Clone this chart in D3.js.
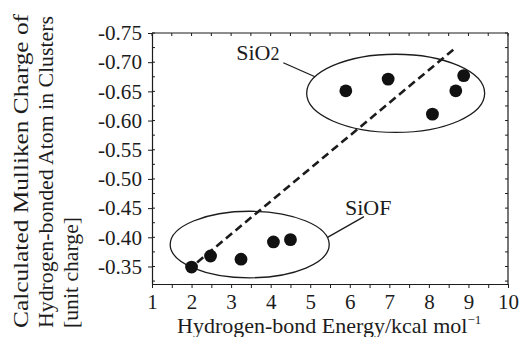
<!DOCTYPE html>
<html>
<head>
<meta charset="utf-8">
<script src="https://cdn.jsdelivr.net/npm/d3@7"></script>
<style>
body { margin: 0; background: #fff; }
text { font-family: "Liberation Serif", "Times New Roman", serif; fill: #1c1c1c; }
</style>
</head>
<body>
<div id="chart"></div>
<script>
// Values
var sio2Energy = [5.9, 6.97, 8.09, 8.68, 8.88];
var sio2Charge = [-0.651, -0.671, -0.611, -0.651, -0.677];
var siofEnergy = [2.0, 2.48, 3.25, 4.07, 4.5];
var siofCharge = [-0.349, -0.368, -0.3625, -0.392, -0.396];

// Dashed trend line ends
var trendEnergy = [2.14, 8.68];
var trendCharge = [-0.357, -0.725];

// Tick values
var xTicks = [1, 2, 3, 4, 5, 6, 7, 8, 9, 10];
var yTicks = [-0.75, -0.70, -0.65, -0.60, -0.55, -0.50, -0.45, -0.40, -0.35];

// Group ellipses (data units)
var groupNames = ["SiO2", "SiOF"];
var groupCx = [7.16, 3.47];
var groupCy = [-0.6466, -0.3876];
var groupRx = [2.25, 2.01];
var groupRy = [0.067, 0.057];

// Set up SVG params
var svgHgt = 337;
var svgWdt = 520;
var margins = {top: 33, right: 12, bottom: 53, left: 152};
var chtHgt = svgHgt - margins.top - margins.bottom;
var chtWdt = svgWdt - margins.left - margins.right;
var ink = "#1c1c1c";

var svg = d3.select("#chart").append("svg")
    .attr("height", svgHgt)
    .attr("width", svgWdt);

var chtGrp = svg.append("g")
    .attr("transform", `translate(${margins.left}, ${margins.top})`);

var xScale = d3.scaleLinear().domain([1, 10]).range([0, chtWdt]);
var yScale = d3.scaleLinear().domain([-0.32, -0.75]).range([chtHgt, 0]);

var halfSteps = d3.range(1, 10.01, 0.5);
var quarterSteps = d3.range(-0.75, -0.3199, 0.025);

// Frame: top and right borders with inward ticks
chtGrp.append("line").attr("x1", 0).attr("x2", chtWdt).attr("y1", 0).attr("y2", 0)
    .attr("stroke", ink).attr("stroke-width", 1.2);
chtGrp.append("line").attr("x1", chtWdt).attr("x2", chtWdt).attr("y1", 0).attr("y2", chtHgt)
    .attr("stroke", ink).attr("stroke-width", 1.2);
chtGrp.selectAll(".topTick").data(halfSteps).enter().append("line")
    .attr("x1", d => xScale(d)).attr("x2", d => xScale(d))
    .attr("y1", 0).attr("y2", 3)
    .attr("stroke", ink).attr("stroke-width", 1);
chtGrp.selectAll(".rightTick").data(quarterSteps).enter().append("line")
    .attr("x1", chtWdt).attr("x2", chtWdt - 3)
    .attr("y1", d => yScale(d)).attr("y2", d => yScale(d))
    .attr("stroke", ink).attr("stroke-width", 1);

// Bottom axis
var botAx = d3.axisBottom(xScale).tickValues(halfSteps).tickSize(4).tickSizeOuter(0)
    .tickFormat(d => Number.isInteger(d) ? d : "");
var xAxis = chtGrp.append("g")
    .attr("transform", `translate(0, ${chtHgt})`)
    .call(botAx);
xAxis.select(".domain").attr("stroke", ink).attr("stroke-width", 1.2);
xAxis.selectAll("line").attr("stroke", ink);
xAxis.selectAll("text").attr("y", 10).attr("dy", "0.71em")
    .style("font-size", "21px").attr("fill", ink);

// Left axis: major ticks out, minor ticks in
var leftAx = d3.axisLeft(yScale).tickValues(yTicks).tickSize(4).tickSizeOuter(0)
    .tickFormat(d => d.toFixed(2));
var yAxis = chtGrp.append("g").call(leftAx);
yAxis.select(".domain").attr("stroke", ink).attr("stroke-width", 1.2);
yAxis.selectAll("line").attr("stroke", ink);
yAxis.selectAll("text").attr("x", -10)
    .style("font-size", "21px").attr("fill", ink)
    .attr("textLength", 44).attr("lengthAdjust", "spacingAndGlyphs");
chtGrp.selectAll(".leftMinor").data(quarterSteps).enter().append("line")
    .attr("x1", 0).attr("x2", 3)
    .attr("y1", d => yScale(d)).attr("y2", d => yScale(d))
    .attr("stroke", ink).attr("stroke-width", 1);

// Group ellipses
chtGrp.selectAll(".grp").data(groupNames).enter().append("ellipse")
    .attr("cx", (d, i) => xScale(groupCx[i]))
    .attr("cy", (d, i) => yScale(groupCy[i]))
    .attr("rx", (d, i) => xScale(groupCx[i] + groupRx[i]) - xScale(groupCx[i]))
    .attr("ry", (d, i) => yScale(groupCy[i]) - yScale(groupCy[i] - groupRy[i]))
    .attr("fill", "none").attr("stroke", ink).attr("stroke-width", 1.3);

// Dashed trend line
var trendLine = d3.line().x(d => xScale(d[0])).y(d => yScale(d[1]));
chtGrp.append("path")
    .datum(d3.zip(trendEnergy, trendCharge))
    .attr("d", trendLine)
    .attr("fill", "none").attr("stroke", ink)
    .attr("stroke-width", 2.6).attr("stroke-dasharray", "8,4.5");

// Points
var allPts = d3.zip(sio2Energy.concat(siofEnergy), sio2Charge.concat(siofCharge));
chtGrp.selectAll(".pt").data(allPts).enter().append("circle")
    .attr("cx", d => xScale(d[0]))
    .attr("cy", d => yScale(d[1]))
    .attr("r", 6.4)
    .attr("fill", "#111");

// Group labels with leader lines
var sio2Lbl = chtGrp.append("text")
    .attr("x", xScale(3.13)).attr("y", yScale(-0.704))
    .style("font-size", "22px");
sio2Lbl.append("tspan").text("SiO");
sio2Lbl.append("tspan").style("font-size", "18px").text("2");
chtGrp.append("line")
    .attr("x1", xScale(4.32)).attr("y1", yScale(-0.699))
    .attr("x2", xScale(5.12)).attr("y2", yScale(-0.675))
    .attr("stroke", ink).attr("stroke-width", 1.3);

chtGrp.append("text")
    .attr("x", xScale(5.88)).attr("y", yScale(-0.4384))
    .style("font-size", "22px").text("SiOF");
chtGrp.append("line")
    .attr("x1", xScale(6.36)).attr("y1", yScale(-0.4355))
    .attr("x2", xScale(5.437)).attr("y2", yScale(-0.3998))
    .attr("stroke", ink).attr("stroke-width", 1.3);

// X axis title
var xTitle = svg.append("text")
    .attr("x", 177).attr("y", 333)
    .style("font-size", "22px");
xTitle.append("tspan").text("Hydrogen-bond Energy/kcal mol");
xTitle.append("tspan").attr("dy", -9).style("font-size", "13px").text("\u22121");

// Y axis title, three rotated lines
var yLines = ["Calculated Mulliken Charge of", "Hydrogen-bonded Atom in Clusters", "[unit charge]"];
var yLens = [314, 312, 111];
svg.selectAll(".ylbl").data(yLines).enter().append("text")
    .attr("transform", (d, i) => `translate(${27.5 + i * 25}, 328) rotate(-90)`)
    .style("font-size", "22px")
    .attr("textLength", (d, i) => yLens[i])
    .attr("lengthAdjust", "spacingAndGlyphs")
    .text(d => d);
</script>
</body>
</html>
